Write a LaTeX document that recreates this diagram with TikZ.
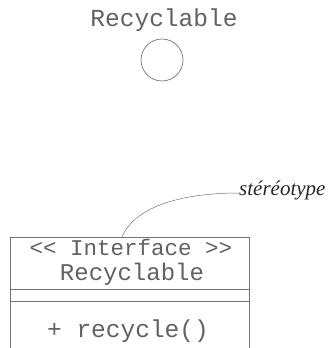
\documentclass[tikz,border=0pt]{standalone}
\usepackage{fontspec}
\setmainfont{Liberation Serif}
\setmonofont{Liberation Mono}
\newcommand{\monosize}[1]{\fontsize{#1}{#1}\selectfont}
\begin{document}
\begin{tikzpicture}[x=1pt,y=-1pt,
  umltext/.style={font=\ttfamily, text=black!62, inner sep=0pt, anchor=base},
  umlline/.style={draw=black!55, line width=0.7pt},
  notetext/.style={font=\itshape\fontsize{21}{24}\selectfont, text=black!85, inner sep=0pt, anchor=base west}]
\useasboundingbox (0,0) rectangle (334,348);
% lollipop notation
\node[umltext] (lname) at (164,27) {\monosize{24.5}Recyclable};
\node[circle, umlline, minimum size=42pt, inner sep=0pt] (lolli) at (162,60) {};
% class box notation (open at the bottom)
\coordinate (bl) at (10,348);
\coordinate (tl) at (10,237);
\coordinate (tr) at (249,237);
\coordinate (br) at (249,348);
\draw[umlline] (bl) -- (tl) -- (tr) -- (br);
\coordinate (s1l) at (10,289); \coordinate (s1r) at (249,289);
\coordinate (s2l) at (10,301); \coordinate (s2r) at (249,301);
\draw[umlline] (s1l) -- (s1r);
\draw[umlline] (s2l) -- (s2r);
\node[umltext] (stereo) at (131,255) {\monosize{22.5}<{}< Interface >{}>};
\node[umltext] (cname) at (132,280) {\monosize{24}Recyclable};
\node[umltext] (op) at (128,337) {\monosize{24.5}+ recycle()};
% annotation
\node[notetext] (note) at (239,195) {stéréotype};
\coordinate (tip) at (122,237);
\draw[umlline, line width=0.5pt] (note.west |- 0,193) .. controls (170,193) and (132,212) .. (tip);
\end{tikzpicture}
\end{document}
